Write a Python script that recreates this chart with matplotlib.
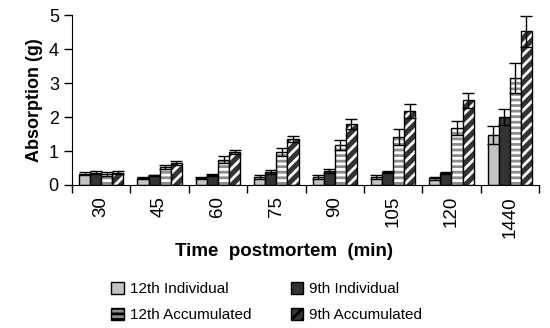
import matplotlib
matplotlib.use("Agg")
import matplotlib.pyplot as plt
from matplotlib.patches import Patch
import numpy as np

plt.rcParams['font.family'] = ['Liberation Sans', 'DejaVu Sans']
plt.rcParams['hatch.linewidth'] = 2.0

# absorption per time point (g)
times = ['30', '45', '60', '75', '90', '105', '120', '1440']
ind12 = [0.33, 0.20, 0.20, 0.24, 0.24, 0.24, 0.20, 1.47]
ind9 = [0.36, 0.28, 0.30, 0.38, 0.41, 0.38, 0.34, 2.00]
acc12 = [0.32, 0.53, 0.74, 0.97, 1.17, 1.42, 1.68, 3.14]
acc9 = [0.36, 0.65, 0.97, 1.35, 1.79, 2.17, 2.50, 4.52]
ind12_err = [0.05, 0.03, 0.03, 0.06, 0.06, 0.05, 0.04, 0.26]
ind9_err = [0.05, 0.02, 0.03, 0.06, 0.05, 0.04, 0.03, 0.23]
acc12_err = [0.05, 0.07, 0.10, 0.12, 0.15, 0.23, 0.20, 0.44]
acc9_err = [0.05, 0.07, 0.07, 0.09, 0.15, 0.20, 0.22, 0.45]

series = [
    ('12th Individual', ind12, ind12_err, '#c4c4c4', None, 'black'),
    ('9th Individual', ind9, ind9_err, '#333333', None, 'black'),
    ('12th Accumulated', acc12, acc12_err, '#8c8c8c', '---', 'white'),
    ('9th Accumulated', acc9, acc9_err, '#333333', '///', 'white'),
]

fig = plt.figure(figsize=(5.5, 3.28), dpi=100)
ax = fig.add_axes([0.131, 0.436, 0.849, 0.518])

x = np.arange(len(times))
w = 0.19
for i, (name, vals, errs, face, hatch, hcol) in enumerate(series):
    pos = x + (i - 1.5) * w
    if hatch:
        # white hatch first, black outline on top
        ax.bar(pos, vals, w, color=face, hatch=hatch, edgecolor=hcol, linewidth=0)
        ax.bar(pos, vals, w, facecolor='none', edgecolor='black', linewidth=1.0)
    else:
        ax.bar(pos, vals, w, color=face, edgecolor='black', linewidth=1.0)
    ax.errorbar(pos, vals, yerr=errs, fmt='none', ecolor='black', elinewidth=1.0,
                capsize=4, capthick=1.0)

ax.set_xlim(-0.5, len(times) - 0.5)
ax.set_ylim(0, 5)
ax.set_yticks(range(6))
ax.tick_params(axis='y', labelsize=13, direction='out', length=6, width=1)
ax.set_xticks(x)
ax.set_xticklabels(times, rotation=90, fontsize=13.5)
ax.set_xticks(np.arange(len(times) + 1) - 0.5, minor=True)
ax.tick_params(axis='x', which='major', length=0, pad=8)
ax.tick_params(axis='x', which='minor', length=6, width=1, direction='out')
for s in ['top', 'right']:
    ax.spines[s].set_visible(False)

ax.set_ylabel('Absorption (g)', fontsize=13, fontweight='bold')
ax.set_xlabel('Time  postmortem  (min)', fontsize=13.5, fontweight='bold')
ax.xaxis.set_label_coords(0.454, -0.34)

# legend fills column by column, so order for two rows of two
order = [0, 2, 1, 3]
leg_handles = [Patch(facecolor=series[k][3], edgecolor='black', hatch=series[k][4],
                     linewidth=1.0) for k in order]
leg_labels = [series[k][0] for k in order]
fig.legend(leg_handles, leg_labels, ncol=2, frameon=False,
           loc='lower center', bbox_to_anchor=(0.485, -0.025), fontsize=11,
           handlelength=0.8, handleheight=0.8, columnspacing=2.6, handletextpad=0.4,
           labelspacing=0.8)

fig.savefig('out.png', dpi=100)
